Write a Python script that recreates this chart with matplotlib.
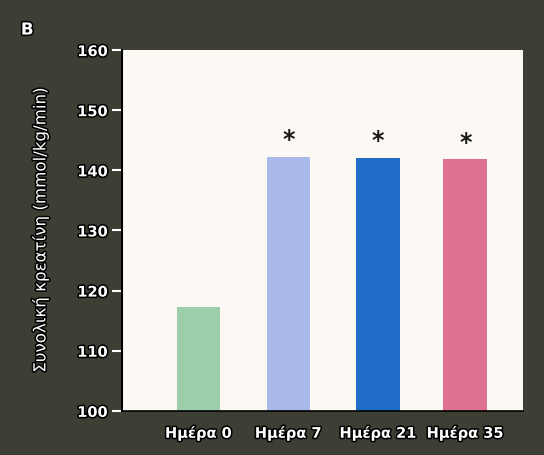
import matplotlib
matplotlib.use("Agg")
import matplotlib.pyplot as plt
import matplotlib.patheffects as pe

# data
days = ["Ημέρα 0", "Ημέρα 7", "Ημέρα 21", "Ημέρα 35"]
creatine = [117.3, 142.2, 142.1, 141.8]
significant = [False, True, True, True]
bar_colors = ["#9ccfa9", "#a9b9ea", "#1f6dc6", "#df7190"]

ylabel = "Συνολική κρεατίνη (mmol/kg/min)"
yticks = [100, 110, 120, 130, 140, 150, 160]

BG = "#3d3f35"
outline = [pe.withStroke(linewidth=2.2, foreground="black")]

fig = plt.figure(figsize=(5.44, 4.55), dpi=100, facecolor=BG)
ax = fig.add_axes([0.224, 0.097, 0.737, 0.793])
ax.set_facecolor("#fcf9f4")

xs = [0, 1.03, 2.06, 3.06]
ax.bar(xs, [v - 100 for v in creatine], bottom=100, width=0.5,
       color=bar_colors, edgecolor="none")
for x, v, s in zip(xs, creatine, significant):
    if s:
        ax.text(x, v + 0.8, "*", ha="center", va="bottom", fontsize=17,
                fontweight="bold", color="#1a1a1a")

ax.set_ylim(100, 160)
ax.set_xlim(-0.88, 3.72)
ax.set_yticks(yticks)
ax.set_xticks(xs)
ax.set_xticklabels(days)

for sp in ["top", "right"]:
    ax.spines[sp].set_visible(False)
ax.spines["left"].set_color("black")
ax.spines["left"].set_linewidth(1.5)
ax.spines["bottom"].set_color("black")
ax.spines["bottom"].set_linewidth(1.2)

ax.tick_params(axis="y", colors="white", length=7, width=1.5, pad=3,
               labelsize=10.5)
ax.tick_params(axis="x", length=0, pad=10, labelsize=10.5, colors="white")
for lab in ax.get_yticklabels() + ax.get_xticklabels():
    lab.set_fontweight("bold")
    lab.set_path_effects(outline)

ax.set_ylabel(ylabel, color="white", fontsize=12, labelpad=20)
ax.yaxis.label.set_path_effects(outline)

fig.text(0.05, 0.935, "B", color="white", fontsize=12, fontweight="bold",
         ha="center", va="center", path_effects=outline)

fig.savefig("out.png", dpi=100, facecolor=BG)
